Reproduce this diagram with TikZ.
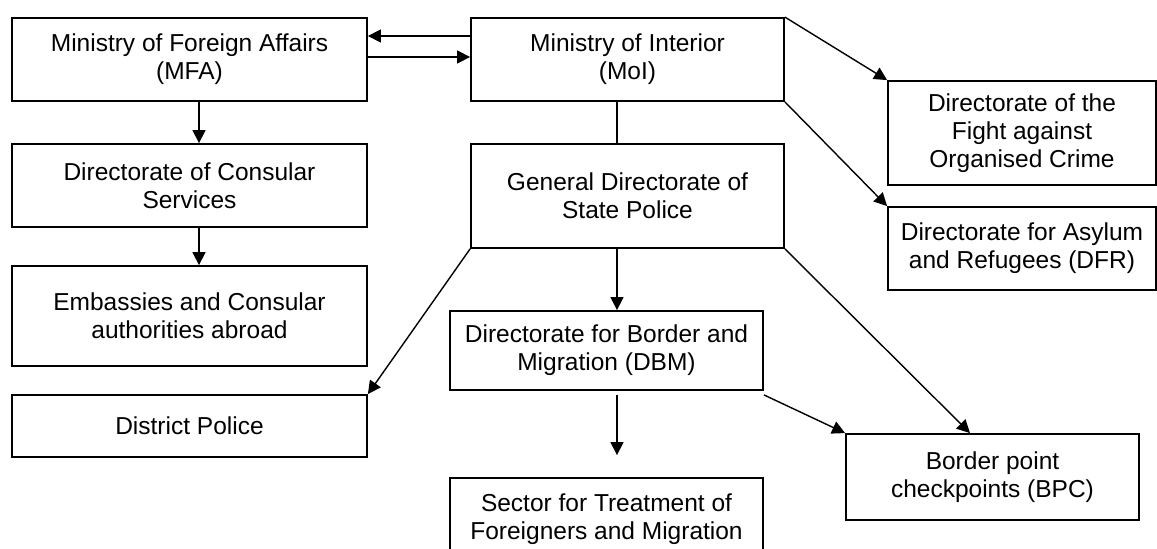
\documentclass[tikz,border=0pt]{standalone}
\usepackage{fontspec}
\setmainfont{Liberation Sans}
\usetikzlibrary{arrows.meta}
\begin{document}
\begin{tikzpicture}[x=0.5pt,y=-0.5pt,
    box/.style={draw, line width=0.9pt, align=center, inner sep=2pt,
      font=\fontsize{12.25}{14}\selectfont},
    link/.style={line width=0.7pt},
    >={Triangle[length=6.5pt,width=6.5pt]}]
  \useasboundingbox (0,0) rectangle (1157,549);
  \clip (0,0) rectangle (1157,549);
  \draw
    (189.5,59.5) node[box, minimum width=177.5pt, minimum height=41.5pt] (MFA) {Ministry of Foreign Affairs\\(MFA)}
    (627.5,59.5) node[box, minimum width=156.5pt, minimum height=41.5pt] (MoI) {Ministry of Interior\\(MoI)}
    (189.5,185.5) node[box, minimum width=177.5pt, minimum height=41.5pt] (Consular) {Directorate of Consular\\Services}
    (189.5,316) node[box, minimum width=177.5pt, minimum height=50pt] (Embassies) {Embassies and Consular\\authorities abroad}
    (189.5,426) node[box, minimum width=177.5pt, minimum height=31pt] (District) {District Police}
    (627.5,196) node[box, minimum width=156.5pt, minimum height=52pt] (GDSP) {General Directorate of\\State Police}
    (606.5,350.5) node[box, minimum width=156.5pt, minimum height=39.5pt] (DBM) {Directorate for Border and\\Migration (DBM)}
    (606.5,519) node[box, minimum width=156.5pt, minimum height=41pt] (Sector) {Sector for Treatment of\\Foreigners and Migration}
    (1022,133) node[box, minimum width=134pt, minimum height=52pt] (DOC) {Directorate of the\\Fight against\\Organised Crime}
    (1022,248.5) node[box, minimum width=134pt, minimum height=41.5pt] (DFR) {Directorate for Asylum\\and Refugees (DFR)}
    (992.5,477) node[box, minimum width=146.5pt, minimum height=43pt] (BPC) {Border point\\checkpoints (BPC)};
  \begin{scope}[link, ->]
    \draw ([yshift=11.75pt]MoI.west) to ([yshift=11.75pt]MFA.east);
    \draw ([yshift=1.25pt]MFA.east) to ([yshift=1.25pt]MoI.west);
    \draw ([xshift=4.75pt]MFA.south) to ([xshift=4.75pt]Consular.north);
    \draw ([xshift=4.75pt]Consular.south) to ([xshift=4.75pt]Embassies.north);
    \draw[-] ([xshift=-5.25pt]MoI.south) to ([xshift=-5.25pt]GDSP.north);
    \draw (MoI.north east) to (DOC.north west);
    \draw (MoI.south east) to (DFR.north west);
    \draw (GDSP.south west) to (District.north east);
    \draw ([xshift=-5.25pt]GDSP.south) to ([xshift=5.25pt]DBM.north);
    \draw (GDSP.south east) to ([xshift=-11.25pt]BPC.north);
    \draw ([yshift=-2pt]DBM.south east) to (BPC.north west);
    \draw[shorten <=2pt, shorten >=11pt] ([xshift=5.25pt]DBM.south) to ([xshift=5.25pt]Sector.north);
  \end{scope}
\end{tikzpicture}
\end{document}
